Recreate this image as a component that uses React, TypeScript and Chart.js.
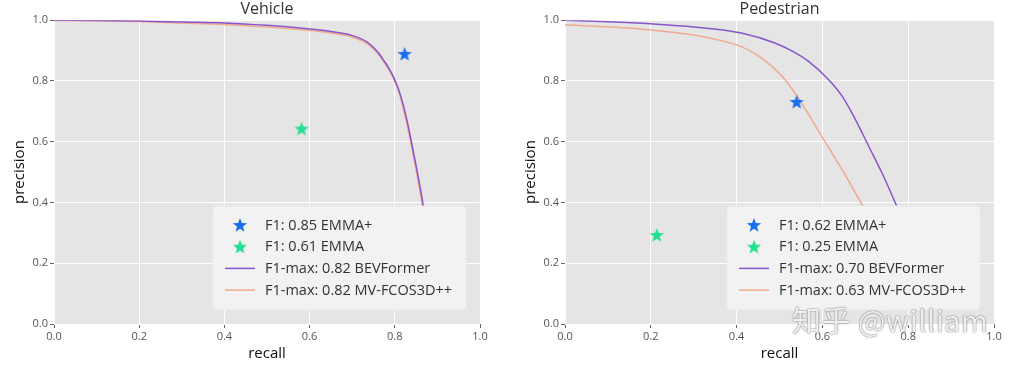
import React, { useEffect, useRef } from "react";
import { Chart, registerables } from "chart.js";

Chart.register(...registerables);

// ---------- data ----------
const titles = ["Vehicle", "Pedestrian"];

const vehBevX = [0, 0.1, 0.2, 0.3, 0.4, 0.5, 0.578, 0.65, 0.696, 0.735, 0.76, 0.774, 0.787, 0.798, 0.813, 0.829, 0.845, 0.857, 0.867, 0.875, 0.882];
const vehBevY = [1.0, 0.999, 0.997, 0.994, 0.991, 0.983, 0.974, 0.963, 0.951, 0.928, 0.895, 0.868, 0.84, 0.81, 0.755, 0.667, 0.557, 0.469, 0.387, 0.3, 0.2];
const vehMvX = [0, 0.1, 0.2, 0.3, 0.4, 0.5, 0.578, 0.65, 0.696, 0.735, 0.76, 0.774, 0.787, 0.798, 0.812, 0.827, 0.843, 0.855, 0.865, 0.873, 0.88];
const vehMvY = [0.999, 0.998, 0.996, 0.991, 0.986, 0.978, 0.969, 0.958, 0.946, 0.923, 0.89, 0.863, 0.835, 0.805, 0.752, 0.667, 0.557, 0.469, 0.387, 0.3, 0.2];
const vehEmmaPlus = { x: 0.823, y: 0.889 };
const vehEmma = { x: 0.581, y: 0.643 };

const pedBevX = [0, 0.1, 0.2, 0.3, 0.411, 0.489, 0.53, 0.567, 0.614, 0.646, 0.677, 0.708, 0.739, 0.772, 0.8, 0.83];
const pedBevY = [1.0, 0.995, 0.988, 0.978, 0.958, 0.925, 0.898, 0.865, 0.805, 0.75, 0.673, 0.585, 0.497, 0.392, 0.3, 0.2];
const pedMvX = [0, 0.1, 0.2, 0.3, 0.35, 0.411, 0.458, 0.505, 0.54, 0.567, 0.606, 0.646, 0.692, 0.73, 0.77];
const pedMvY = [0.985, 0.978, 0.968, 0.951, 0.937, 0.913, 0.876, 0.817, 0.752, 0.692, 0.6, 0.508, 0.394, 0.3, 0.2];
const pedEmmaPlus = { x: 0.54, y: 0.731 };
const pedEmma = { x: 0.214, y: 0.293 };

const vehLabels = ["F1: 0.85 EMMA+", "F1: 0.61 EMMA", "F1-max: 0.82 BEVFormer", "F1-max: 0.82 MV-FCOS3D++"];
const pedLabels = ["F1: 0.62 EMMA+", "F1: 0.25 EMMA", "F1-max: 0.70 BEVFormer", "F1-max: 0.63 MV-FCOS3D++"];

const axisTicks = [0, 0.2, 0.4, 0.6, 0.8, 1.0];

// ---------- styles ----------
const BLUE = "#1a6ef0";
const GREEN = "#22e090";
const PURPLE = "#8a55cc";
const ORANGE = "#f0aa8c";
const FONT = "'Open Sans', sans-serif";

function makeStar(color: string, size = 16): HTMLCanvasElement {
  const c = document.createElement("canvas");
  c.width = size;
  c.height = size;
  const ctx = c.getContext("2d")!;
  const cx = size / 2, cy = size / 2 + 0.6;
  const R = size / 2 - 0.5, r = R * 0.42;
  ctx.beginPath();
  for (let i = 0; i < 10; i++) {
    const rad = i % 2 === 0 ? R : r;
    const a = -Math.PI / 2 + (i * Math.PI) / 5;
    const px = cx + rad * Math.cos(a), py = cy + rad * Math.sin(a);
    if (i === 0) ctx.moveTo(px, py); else ctx.lineTo(px, py);
  }
  ctx.closePath();
  ctx.fillStyle = color;
  ctx.fill();
  return c;
}

const zip = (xs: number[], ys: number[]) => xs.map((x, i) => ({ x, y: ys[i] }));

const bgPlugin = {
  id: "bgArea",
  beforeDraw(chart: any) {
    const { ctx, chartArea } = chart;
    ctx.save();
    ctx.fillStyle = "#e5e5e5";
    ctx.fillRect(chartArea.left, chartArea.top, chartArea.width, chartArea.height);
    ctx.restore();
  },
};

const boxLegendPlugin = {
  id: "boxLegend",
  afterDatasetsDraw(chart: any) {
    const { ctx, chartArea } = chart;
    const w = 253, h = 104;
    const left = chartArea.right - 14 - w;
    const top = chartArea.bottom - 14 - h;
    ctx.save();
    ctx.beginPath();
    (ctx as any).roundRect(left, top, w, h, 4);
    ctx.fillStyle = "#f2f2f2";
    ctx.fill();
    ctx.strokeStyle = "#ebebeb";
    ctx.lineWidth = 1;
    ctx.stroke();
    ctx.font = `14.5px ${FONT}`;
    ctx.textBaseline = "middle";
    ctx.textAlign = "left";
    chart.data.datasets.forEach((ds: any, i: number) => {
      const cy = top + 19 + i * 21.7;
      if (ds.showLine) {
        ctx.strokeStyle = ds.borderColor;
        ctx.lineWidth = 1.5;
        ctx.beginPath();
        ctx.moveTo(left + 12, cy);
        ctx.lineTo(left + 42, cy);
        ctx.stroke();
      } else {
        const img = ds.pointStyle as HTMLCanvasElement;
        ctx.drawImage(img, left + 27 - img.width / 2, cy - img.height / 2);
      }
      ctx.fillStyle = "#333";
      ctx.fillText(ds.label, left + 52, cy + 0.5);
    });
    ctx.restore();
  },
};

function buildConfig(title: string, labels: string[], ep: any, e: any, bx: number[], by: number[], mx: number[], my: number[]): any {
  const tickFont = { size: 11, family: FONT };
  return {
    type: "scatter",
    data: {
      datasets: [
        { label: labels[0], data: [ep], pointStyle: makeStar(BLUE), pointRadius: 8, showLine: false, backgroundColor: BLUE, borderColor: BLUE },
        { label: labels[1], data: [e], pointStyle: makeStar(GREEN), pointRadius: 8, showLine: false, backgroundColor: GREEN, borderColor: GREEN },
        { label: labels[2], data: zip(bx, by), showLine: true, pointRadius: 0, borderColor: PURPLE, borderWidth: 1.5, cubicInterpolationMode: "monotone", fill: false },
        { label: labels[3], data: zip(mx, my), showLine: true, pointRadius: 0, borderColor: ORANGE, borderWidth: 1.5, cubicInterpolationMode: "monotone", fill: false },
      ],
    },
    options: {
      responsive: false,
      animation: false,
      events: [],
      layout: { padding: { left: 0, right: 25, top: 0, bottom: 0 } },
      plugins: {
        legend: { display: false },
        tooltip: { enabled: false },
        title: {
          display: true,
          text: title,
          fullSize: false,
          color: "#333",
          font: { size: 16, weight: "normal", family: FONT },
          padding: { top: 0, bottom: 1 },
        },
      },
      scales: {
        x: {
          type: "linear",
          min: 0,
          max: 1,
          afterBuildTicks: (s: any) => { s.ticks = axisTicks.map((v) => ({ value: v })); },
          afterFit: (s: any) => { s.height = 41; },
          ticks: { callback: (v: number) => v.toFixed(1), color: "#555", font: tickFont, padding: 2, maxRotation: 0 },
          grid: { color: "#ffffff", lineWidth: 1, tickLength: 4, tickColor: "#666", tickWidth: 1 },
          border: { display: false },
          title: { display: true, text: "recall", color: "#111", font: { size: 15, family: FONT }, padding: { top: 0, bottom: 2 } },
        },
        y: {
          type: "linear",
          min: 0,
          max: 1,
          afterBuildTicks: (s: any) => { s.ticks = axisTicks.map((v) => ({ value: v })); },
          afterFit: (s: any) => { s.width = 54; },
          ticks: { callback: (v: number) => v.toFixed(1), color: "#555", font: tickFont, padding: 2 },
          grid: { color: "#ffffff", lineWidth: 1, tickLength: 4, tickColor: "#666", tickWidth: 1 },
          border: { display: false },
          title: { display: true, text: "precision", color: "#111", font: { size: 15, family: FONT }, padding: { top: 11, bottom: 0 } },
        },
      },
    },
    plugins: [bgPlugin, boxLegendPlugin],
  };
}

function PRChart(props: { cfg: () => any; width: number; height: number; left: number }) {
  const ref = useRef<HTMLCanvasElement>(null);
  useEffect(() => {
    const chart = new Chart(ref.current!, props.cfg());
    return () => chart.destroy();
  }, []);
  return (
    <canvas
      ref={ref}
      width={props.width}
      height={props.height}
      style={{ position: "absolute", left: props.left, top: 0, width: props.width, height: props.height }}
    />
  );
}

export default function App() {
  return (
    <div style={{ position: "absolute", left: 0, top: 0, width: 1019, height: 365, background: "#fff", overflow: "hidden" }}>
      <PRChart
        left={0}
        width={505}
        height={365}
        cfg={() => buildConfig(titles[0], vehLabels, vehEmmaPlus, vehEmma, vehBevX, vehBevY, vehMvX, vehMvY)}
      />
      <PRChart
        left={511}
        width={508}
        height={365}
        cfg={() => buildConfig(titles[1], pedLabels, pedEmmaPlus, pedEmma, pedBevX, pedBevY, pedMvX, pedMvY)}
      />
      <div
        style={{
          position: "absolute",
          left: 792,
          top: 298,
          fontFamily: "'Noto Sans CJK SC', sans-serif",
          fontSize: 29,
          color: "rgba(255,255,255,0.9)",
          textShadow: "0 0 1px rgba(60,60,60,0.8), 0 0 2px rgba(90,90,90,0.5)",
          whiteSpace: "nowrap",
          letterSpacing: 0.5,
        }}
      >
        知乎 @william
      </div>
    </div>
  );
}
